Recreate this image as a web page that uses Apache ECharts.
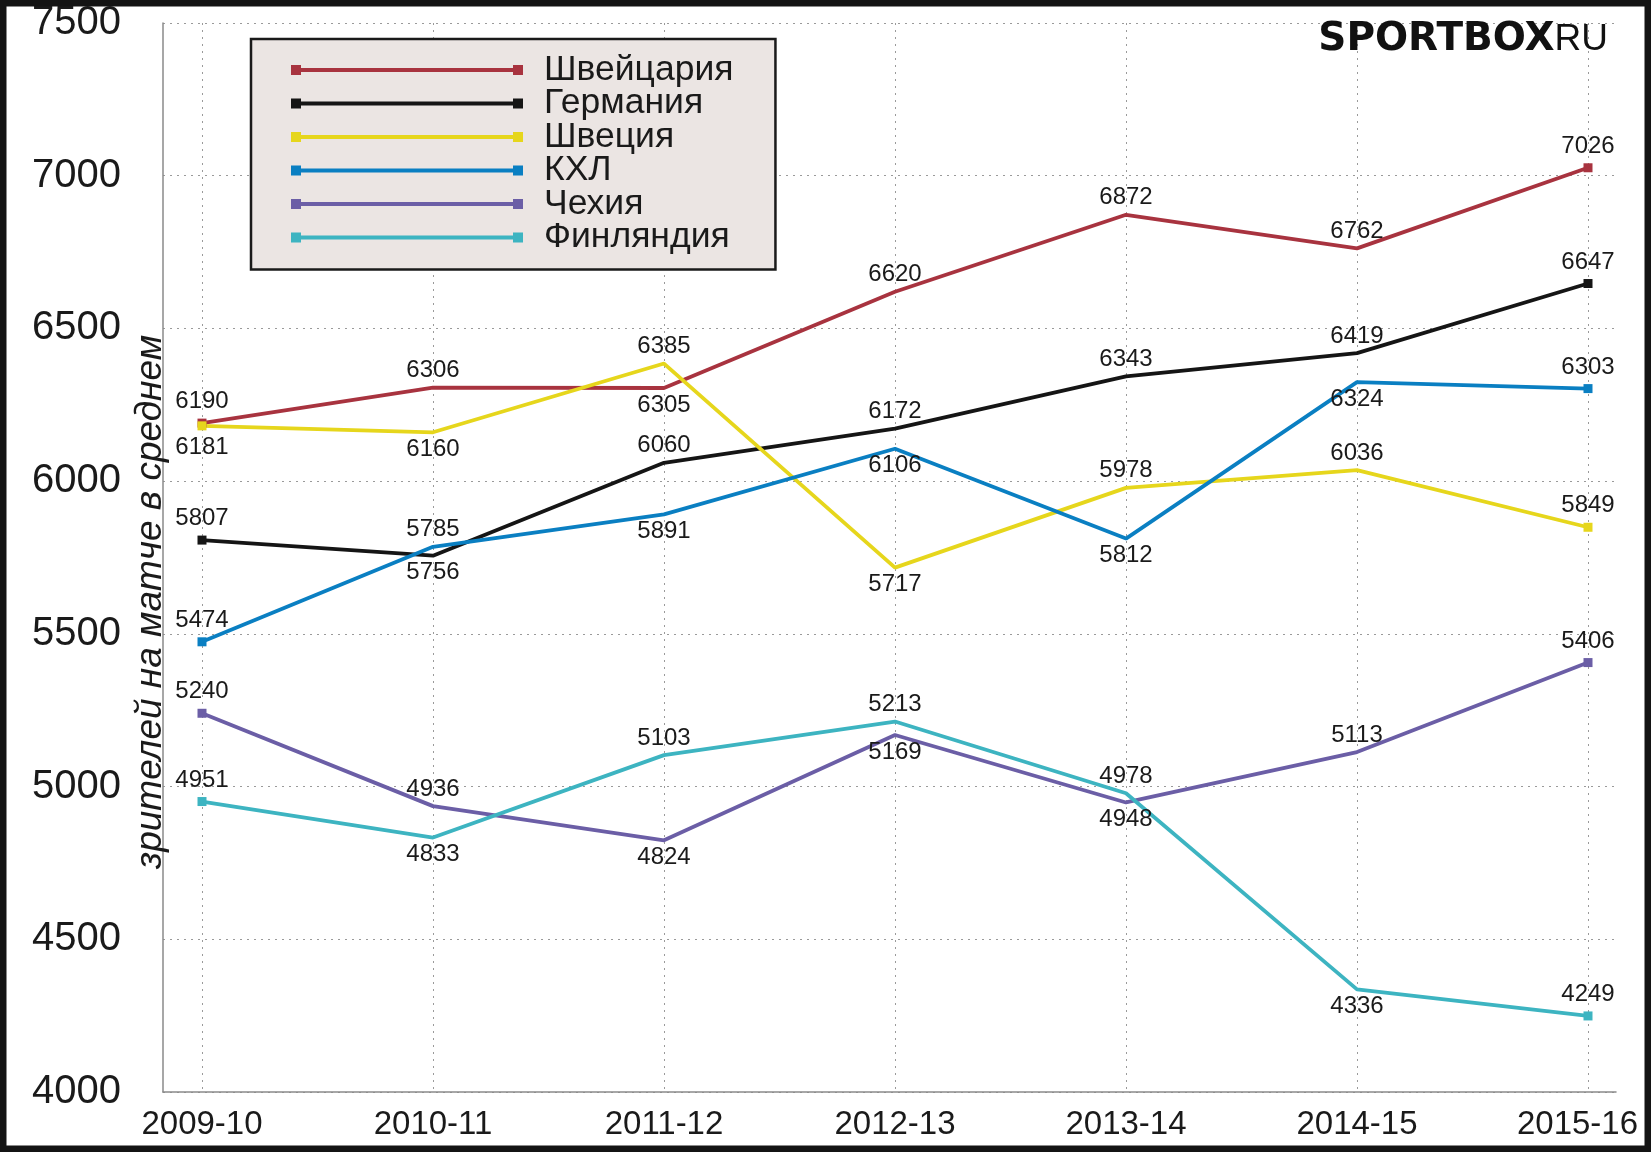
<!DOCTYPE html>
<html>
<head>
<meta charset="utf-8">
<script src="https://cdn.jsdelivr.net/npm/echarts@6/dist/echarts.min.js"></script>
<style>
html,body{margin:0;padding:0;background:#fff;}
#chart{width:1651px;height:1152px;}
</style>
</head>
<body>
<div id="chart"></div>
<script>
// ---- data ----
var seasons = ['2009-10','2010-11','2011-12','2012-13','2013-14','2014-15','2015-16'];
var yTicks = [4000, 4500, 5000, 5500, 6000, 6500, 7000, 7500];
var seriesNames = ['Швейцария','Германия','Швеция','КХЛ','Чехия','Финляндия'];
var switzerland = [6190, 6306, 6305, 6620, 6872, 6762, 7026];
var germany     = [5807, 5756, 6060, 6172, 6343, 6419, 6647];
var sweden      = [6181, 6160, 6385, 5717, 5978, 6036, 5849];
var khl         = [5474, 5785, 5891, 6106, 5812, 6324, 6303];
var czech       = [5240, 4936, 4824, 5169, 4948, 5113, 5406];
var finland     = [4951, 4833, 5103, 5213, 4978, 4336, 4249];

// ---- label placement (style) ----
var T = 'top', B = 'bottom';
var switzerlandPos = [T, T, B, T, T, T, T];
var germanyPos     = [T, B, T, T, T, T, T];
var swedenPos      = [B, B, T, B, T, T, T];
var khlPos         = [T, T, B, B, B, B, T];
var czechPos       = [T, T, B, B, B, T, T];
var finlandPos     = [T, B, T, T, T, B, T];

var colors = ['#a8333f', '#151515', '#e6d61c', '#0a7fc2', '#6b5ea6', '#3db4c1'];
var FONT = 'Liberation Sans, Arial, sans-serif';

function mkSeries(name, values, pos, color) {
  var last = values.length - 1;
  return {
    name: name,
    type: 'line',
    xAxisIndex: 1,
    yAxisIndex: 1,
    data: values.map(function (v, i) {
      return { value: v, label: { position: pos[i] } };
    }),
    symbol: 'rect',
    symbolSize: function (v, p) {
      return (p.dataIndex === 0 || p.dataIndex === last) ? 9 : 0;
    },
    showAllSymbol: true,
    lineStyle: { color: color, width: 3.8 },
    itemStyle: { color: color, borderWidth: 0 },
    label: {
      show: true,
      distance: 5,
      color: '#1a1a1a',
      fontFamily: FONT,
      fontSize: 24
    },
    emphasis: { disabled: true },
    animation: false,
    z: 5
  };
}

var legendIcon = 'path://M0,0H10V10H0Z M10,3H222V7H10Z M222,0H232V10H222Z';

var option = {
  backgroundColor: '#ffffff',
  animation: false,
  grid: [
    { left: 163, right: 35, top: 23, bottom: 60 },
    { left: 202, right: 63, top: 23, bottom: 60 }
  ],
  xAxis: [
    {
      type: 'value', gridIndex: 0, min: 0, max: 1,
      axisLine: { show: true, lineStyle: { color: '#8a8a8a', width: 1.5 } },
      axisTick: { show: false }, axisLabel: { show: false }, splitLine: { show: false }
    },
    {
      type: 'category', gridIndex: 1, data: seasons, boundaryGap: false,
      axisLine: { show: false }, axisTick: { show: false },
      axisLabel: {
        interval: 0,
        color: '#1a1a1a', fontFamily: FONT, fontSize: 33, margin: 16,
        formatter: function (v, i) {
          return i === seasons.length - 1 ? '{last|' + v + '}' : v;
        },
        rich: {
          last: { color: '#1a1a1a', fontFamily: FONT, fontSize: 33, padding: [0, 21, 0, 0] }
        }
      },
      splitLine: { show: true, interval: 0, lineStyle: { color: '#9a9a9a', width: 1, type: [2, 5] } }
    }
  ],
  yAxis: [
    {
      type: 'value', gridIndex: 0, min: yTicks[0], max: yTicks[yTicks.length - 1], interval: 500,
      axisLine: { show: true, lineStyle: { color: '#8a8a8a', width: 1.5 } },
      axisTick: { show: false },
      axisLabel: {
        color: '#1a1a1a', fontFamily: FONT, fontSize: 40, margin: 42,
        formatter: function (v) { return String(v); }
      },
      splitLine: { show: true, lineStyle: { color: '#9a9a9a', width: 1, type: [2, 5] } }
    },
    {
      type: 'value', gridIndex: 1, min: yTicks[0], max: yTicks[yTicks.length - 1], interval: 500,
      show: false, splitLine: { show: false }
    }
  ],
  legend: {
    orient: 'vertical',
    left: 251,
    top: 39,
    data: seriesNames,
    icon: legendIcon,
    itemWidth: 232,
    itemHeight: 10,
    itemGap: -2.5,
    itemStyle: { borderWidth: 0 },
    selectedMode: false,
    backgroundColor: '#ebe5e3',
    borderColor: '#1a1a1a',
    borderWidth: 2.5,
    padding: [13, 42, 14, 40],
    textStyle: {
      color: '#1a1a1a', fontFamily: FONT, fontSize: 35.5, lineHeight: 32,
      padding: [0, 0, 0, 16]
    }
  },
  graphic: [
    {
      type: 'text', x: 151, y: 602, rotation: Math.PI / 2,
      style: {
        text: 'зрителей на матче в среднем',
        font: 'italic 37px ' + FONT,
        fill: '#1a1a1a',
        align: 'center',
        verticalAlign: 'middle'
      },
      z: 10
    },
    {
      type: 'text', x: 1608, y: 40,
      style: {
        text: '{a|SPORTBOX}{b|RU}',
        align: 'right',
        verticalAlign: 'middle',
        rich: {
          a: { fontFamily: 'DejaVu Sans', fontWeight: 'bold', fontSize: 39, fill: '#111', color: '#111' },
          b: { fontFamily: FONT, fontSize: 37, fill: '#111', color: '#111' }
        }
      },
      z: 10
    },
    {
      type: 'rect', silent: true,
      shape: { x: 3, y: 3, width: 1645, height: 1146 },
      style: { fill: 'none', stroke: '#141414', lineWidth: 7 },
      z: 20
    }
  ],
  series: [
    mkSeries(seriesNames[0], switzerland, switzerlandPos, colors[0]),
    mkSeries(seriesNames[1], germany, germanyPos, colors[1]),
    mkSeries(seriesNames[2], sweden, swedenPos, colors[2]),
    mkSeries(seriesNames[3], khl, khlPos, colors[3]),
    mkSeries(seriesNames[4], czech, czechPos, colors[4]),
    mkSeries(seriesNames[5], finland, finlandPos, colors[5])
  ]
};

var chart = echarts.init(document.getElementById('chart'), null, { renderer: 'canvas' });
chart.setOption(option);
</script>
</body>
</html>
